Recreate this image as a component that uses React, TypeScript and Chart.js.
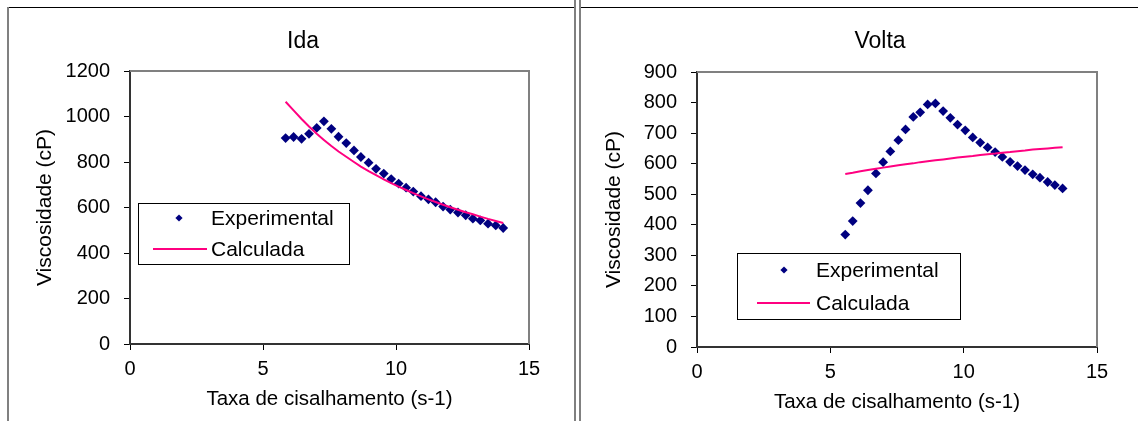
import React, { useEffect, useRef } from "react";
import { Chart, registerables } from "chart.js";

Chart.register(...registerables);

// ---------- data ----------
const chartTitles = ["Ida", "Volta"];
const seriesLabels = ["Experimental", "Calculada"];
const xAxisTitle = "Taxa de cisalhamento (s-1)";
const yAxisTitle = "Viscosidade (cP)";

const idaShear = [
  5.85, 6.15, 6.45, 6.73, 7.02, 7.29, 7.57, 7.84, 8.13, 8.42,
  8.68, 8.97, 9.25, 9.54, 9.82, 10.1, 10.38, 10.65, 10.94, 11.22,
  11.49, 11.77, 12.04, 12.33, 12.62, 12.89, 13.17, 13.46, 13.75, 14.03,
];
const idaExperimental = [
  905, 910, 902, 924, 950, 979, 946, 911, 883, 851,
  822, 797, 770, 749, 725, 705, 687, 670, 650, 636,
  623, 604, 591, 578, 566, 551, 543, 529, 521, 510,
];
const idaCalculated = [
  1065, 1027, 989, 956, 924, 897, 870, 846, 823, 800,
  780, 760, 742, 724, 707, 692, 677, 663, 649, 636,
  624, 612, 601, 590, 579, 570, 560, 550, 541, 532,
];

const voltaShear = [
  5.56, 5.84, 6.13, 6.41, 6.71, 6.98, 7.25, 7.55, 7.82, 8.11,
  8.37, 8.65, 8.94, 9.23, 9.5, 9.77, 10.06, 10.34, 10.62, 10.9,
  11.18, 11.45, 11.74, 12.02, 12.3, 12.59, 12.86, 13.15, 13.42, 13.71,
];
const voltaExperimental = [
  368, 412, 471, 513, 568, 605, 640, 677, 712, 753,
  768, 794, 797, 772, 750, 728, 709, 686, 669, 653,
  638, 622, 606, 592, 579, 565, 554, 540, 530, 519,
];
const voltaCalculated = [
  566, 570, 575, 579, 583, 587, 591, 595, 598, 601,
  605, 608, 611, 614, 617, 620, 623, 625, 628, 631,
  633, 636, 638, 641, 643, 646, 648, 650, 652, 654,
];

const xTickValues = [0, 5, 10, 15];
const idaYTicks = [0, 200, 400, 600, 800, 1000, 1200];
const voltaYTicks = [0, 100, 200, 300, 400, 500, 600, 700, 800, 900];

// ---------- styles ----------
const FONT = "'Liberation Sans', Arial, sans-serif";
const NAVY = "#000080";
const PINK = "#FF0080";

const panelDecor = {
  id: "panelDecor",
  beforeDatasetsDraw(chart: any) {
    const { ctx, chartArea: a } = chart;
    ctx.save();
    ctx.strokeStyle = "#808080";
    ctx.lineWidth = 2;
    ctx.beginPath();
    ctx.moveTo(a.left, a.top);
    ctx.lineTo(a.right, a.top);
    ctx.lineTo(a.right, a.bottom);
    ctx.stroke();
    ctx.restore();
  },
  afterDraw(chart: any, _a: any, opts: any) {
    const { ctx } = chart;
    ctx.save();
    // title
    ctx.fillStyle = "#000";
    ctx.font = `${opts.titleSize}px ${FONT}`;
    ctx.textAlign = "center";
    ctx.textBaseline = "middle";
    ctx.fillText(opts.title, opts.titleX, opts.titleY);
    // legend
    const L = opts.legend;
    ctx.fillStyle = "#fff";
    ctx.fillRect(L.x, L.y, L.w, L.h);
    ctx.strokeStyle = "#000";
    ctx.lineWidth = 1;
    ctx.strokeRect(L.x + 0.5, L.y + 0.5, L.w, L.h);
    ctx.font = `${L.fontSize}px ${FONT}`;
    ctx.textAlign = "left";
    ctx.textBaseline = "middle";
    chart.data.datasets.forEach((ds: any, i: number) => {
      const ry = L.rows[i];
      if (ds.showLine) {
        ctx.strokeStyle = ds.borderColor;
        ctx.lineWidth = 2;
        ctx.beginPath();
        ctx.moveTo(L.lineX0, ry);
        ctx.lineTo(L.lineX1, ry);
        ctx.stroke();
      } else {
        const r = L.markerR;
        ctx.fillStyle = ds.backgroundColor;
        ctx.beginPath();
        ctx.moveTo(L.markerX, ry - r);
        ctx.lineTo(L.markerX + r, ry);
        ctx.lineTo(L.markerX, ry + r);
        ctx.lineTo(L.markerX - r, ry);
        ctx.closePath();
        ctx.fill();
      }
      ctx.fillStyle = "#000";
      ctx.fillText(ds.label, L.textX, ry + 1);
    });
    ctx.restore();
  },
};

type PanelSpec = {
  shear: number[];
  exp: number[];
  calc: number[];
  yTicks: number[];
  title: string;
  width: number;
  height: number;
  padTop: number;
  padRight: number;
  yAxisW: number;
  xAxisH: number;
  yTitlePad: number;
  xTitlePad: number;
  titleX: number;
  titleY: number;
  legend: any;
};

function buildConfig(p: PanelSpec): any {
  const yMax = p.yTicks[p.yTicks.length - 1];
  return {
    type: "scatter",
    data: {
      datasets: [
        {
          label: seriesLabels[0],
          data: p.shear.map((x, i) => ({ x, y: p.exp[i] })),
          showLine: false,
          pointStyle: "rectRot",
          pointRadius: 4.9,
          pointHoverRadius: 4.9,
          backgroundColor: NAVY,
          borderColor: NAVY,
          borderWidth: 0,
          order: 1,
        },
        {
          label: seriesLabels[1],
          data: p.shear.map((x, i) => ({ x, y: p.calc[i] })),
          showLine: true,
          pointRadius: 0,
          pointHoverRadius: 0,
          borderColor: PINK,
          backgroundColor: PINK,
          borderWidth: 2,
          fill: false,
          order: 0,
        },
      ],
    },
    options: {
      animation: false,
      responsive: false,
      devicePixelRatio: 1,
      events: [],
      layout: { padding: { left: 0, top: p.padTop, right: p.padRight, bottom: 0 } },
      plugins: {
        legend: { display: false },
        tooltip: { enabled: false },
        title: { display: false },
        panelDecor: {
          title: p.title,
          titleX: p.titleX,
          titleY: p.titleY,
          titleSize: 23,
          legend: p.legend,
        },
      },
      scales: {
        x: {
          type: "linear",
          min: xTickValues[0],
          max: xTickValues[xTickValues.length - 1],
          afterBuildTicks: (s: any) => {
            s.ticks = xTickValues.map((v) => ({ value: v }));
          },
          ticks: {
            color: "#000",
            font: { size: 20, family: FONT },
            padding: 7,
            maxRotation: 0,
            autoSkip: false,
            callback: (v: any) => String(v),
          },
          grid: {
            drawOnChartArea: false,
            drawTicks: true,
            tickLength: 6,
            color: "#000",
          },
          border: { color: "#333", width: 2 },
          title: {
            display: true,
            text: xAxisTitle,
            color: "#000",
            font: { size: 20.5, family: FONT },
            padding: { top: 0, bottom: p.xTitlePad },
          },
          afterFit: (s: any) => {
            s.height = p.xAxisH;
          },
        },
        y: {
          type: "linear",
          min: 0,
          max: yMax,
          afterBuildTicks: (s: any) => {
            s.ticks = p.yTicks.map((v) => ({ value: v }));
          },
          ticks: {
            color: "#000",
            font: { size: 20, family: FONT },
            padding: 14,
            autoSkip: false,
            callback: (v: any) => String(v),
          },
          grid: {
            drawOnChartArea: false,
            drawTicks: true,
            tickLength: 6,
            color: "#000",
          },
          border: { color: "#333", width: 2 },
          title: {
            display: true,
            text: yAxisTitle,
            color: "#000",
            font: { size: 21, family: FONT },
            padding: { top: p.yTitlePad, bottom: 0 },
          },
          afterFit: (s: any) => {
            s.width = p.yAxisW;
          },
        },
      },
    },
    plugins: [panelDecor],
  };
}

function Panel({ spec, left }: { spec: PanelSpec; left: number }) {
  const ref = useRef<HTMLCanvasElement | null>(null);
  useEffect(() => {
    if (!ref.current) return;
    const chart = new Chart(ref.current, buildConfig(spec));
    return () => chart.destroy();
  }, []);
  return (
    <canvas
      ref={ref}
      width={spec.width}
      height={spec.height}
      style={{ position: "absolute", left, top: 0, width: spec.width, height: spec.height }}
    />
  );
}

const idaSpec: PanelSpec = {
  shear: idaShear,
  exp: idaExperimental,
  calc: idaCalculated,
  yTicks: idaYTicks,
  title: chartTitles[0],
  width: 574,
  height: 421,
  padTop: 71,
  padRight: 45,
  yAxisW: 130,
  xAxisH: 77,
  yTitlePad: 33,
  xTitlePad: 9,
  titleX: 303,
  titleY: 42,
  legend: {
    x: 138, y: 203, w: 211, h: 61,
    rows: [218, 249],
    markerX: 179, markerR: 3.6,
    lineX0: 153, lineX1: 207,
    textX: 211, fontSize: 21,
  },
};

const voltaSpec: PanelSpec = {
  shear: voltaShear,
  exp: voltaExperimental,
  calc: voltaCalculated,
  yTicks: voltaYTicks,
  title: chartTitles[1],
  width: 559,
  height: 421,
  padTop: 72,
  padRight: 41,
  yAxisW: 118,
  xAxisH: 74,
  yTitlePad: 23,
  xTitlePad: 6,
  titleX: 301,
  titleY: 42,
  legend: {
    x: 158, y: 253, w: 223, h: 66,
    rows: [270, 303],
    markerX: 205, markerR: 3.6,
    lineX0: 178, lineX1: 231,
    textX: 237, fontSize: 21,
  },
};

export default function App() {
  const line = (s: React.CSSProperties) => (
    <div style={{ position: "absolute", pointerEvents: "none", ...s }} />
  );
  return (
    <div
      style={{
        position: "absolute",
        left: 0,
        top: 0,
        width: 1138,
        height: 421,
        background: "#fff",
        overflow: "hidden",
      }}
    >
      <Panel spec={idaSpec} left={0} />
      <Panel spec={voltaSpec} left={579} />
      {line({ left: 7, top: 7, width: 567, height: 1, background: "#000" })}
      {line({ left: 580, top: 7, width: 558, height: 1, background: "#000" })}
      {line({ left: 7, top: 7, width: 2, height: 414, background: "#808080" })}
      {line({ left: 574, top: 0, width: 2, height: 421, background: "#808080" })}
      {line({ left: 579, top: 0, width: 1.5, height: 421, background: "#808080" })}
    </div>
  );
}
